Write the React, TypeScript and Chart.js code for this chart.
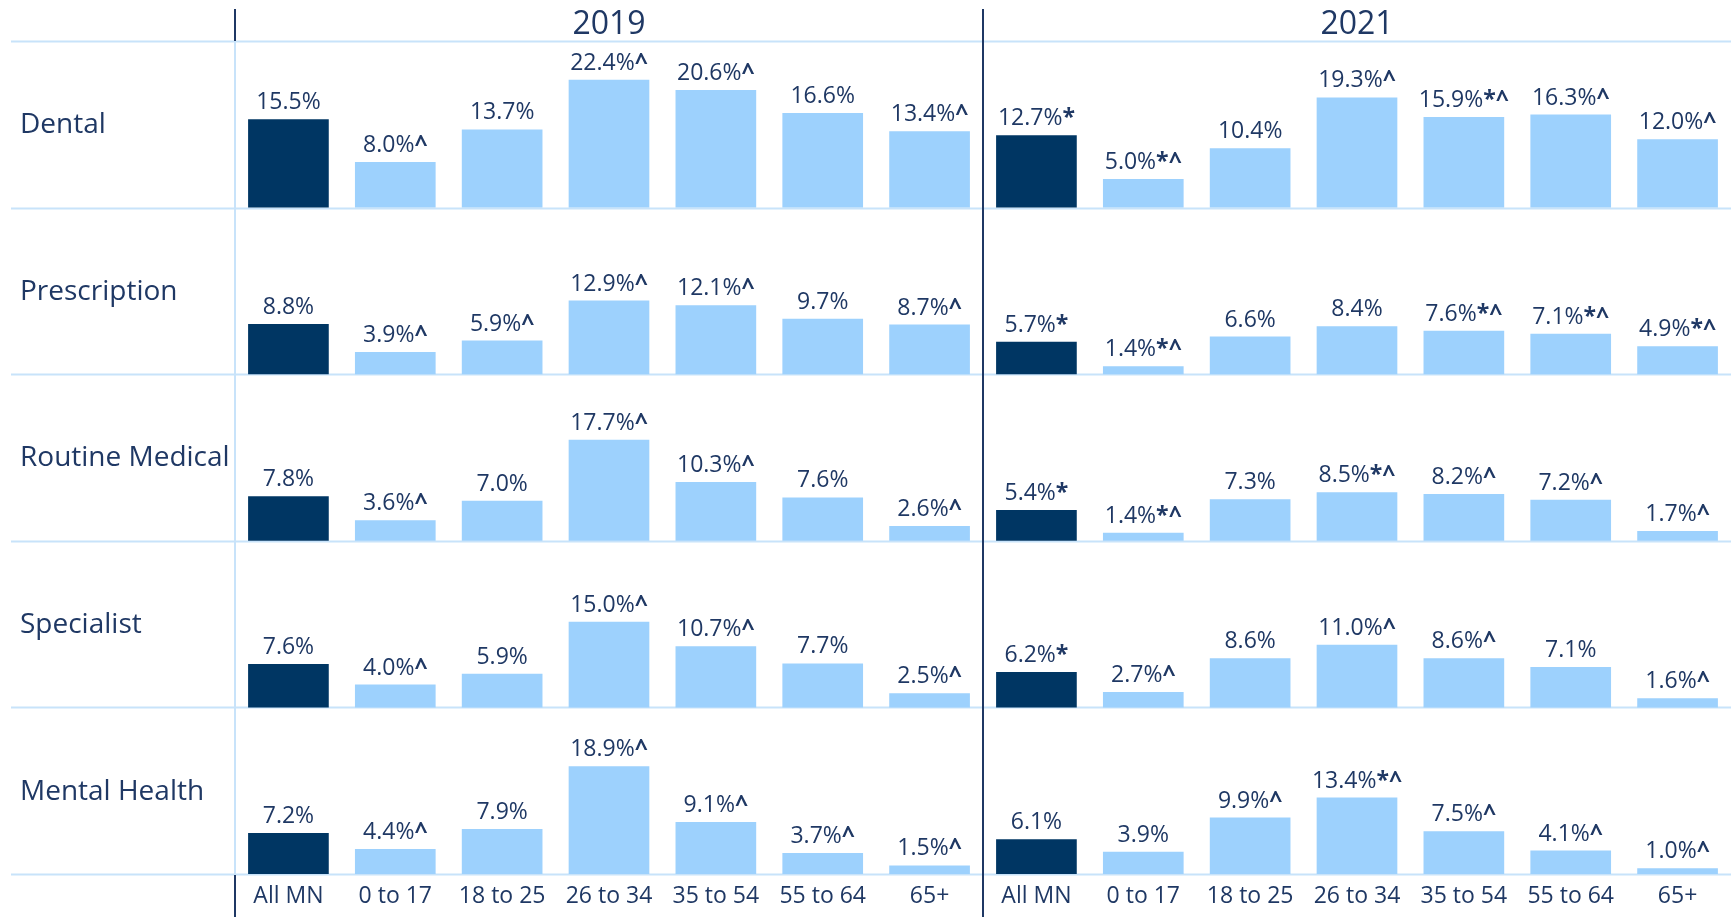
import React, { useEffect, useRef } from "react";
import { Chart, registerables } from "chart.js";

Chart.register(...registerables);

const years = ["2019", "2021"];
const ageGroups = ["All MN", "0 to 17", "18 to 25", "26 to 34", "35 to 54", "55 to 64", "65+"];
const categories = [...ageGroups, ...ageGroups];
const rowLabels = ["Dental", "Prescription", "Routine Medical", "Specialist", "Mental Health"];

// values: 7 for 2019 followed by 7 for 2021
const dental = [15.5, 8.0, 13.7, 22.4, 20.6, 16.6, 13.4, 12.7, 5.0, 10.4, 19.3, 15.9, 16.3, 12.0];
const prescription = [8.8, 3.9, 5.9, 12.9, 12.1, 9.7, 8.7, 5.7, 1.4, 6.6, 8.4, 7.6, 7.1, 4.9];
const routineMedical = [7.8, 3.6, 7.0, 17.7, 10.3, 7.6, 2.6, 5.4, 1.4, 7.3, 8.5, 8.2, 7.2, 1.7];
const specialist = [7.6, 4.0, 5.9, 15.0, 10.7, 7.7, 2.5, 6.2, 2.7, 8.6, 11.0, 8.6, 7.1, 1.6];
const mentalHealth = [7.2, 4.4, 7.9, 18.9, 9.1, 3.7, 1.5, 6.1, 3.9, 9.9, 13.4, 7.5, 4.1, 1.0];

const dentalMarks = ["", "^", "", "^", "^", "", "^", "*", "*^", "", "^", "*^", "^", "^"];
const prescriptionMarks = ["", "^", "^", "^", "^", "", "^", "*", "*^", "", "", "*^", "*^", "*^"];
const routineMedicalMarks = ["", "^", "", "^", "^", "", "^", "*", "*^", "", "*^", "^", "^", "^"];
const specialistMarks = ["", "^", "", "^", "^", "", "^", "*", "^", "", "^", "^", "", "^"];
const mentalHealthMarks = ["", "^", "", "^", "^", "^", "^", "", "", "^", "*^", "^", "^", "^"];

const rowValues = [dental, prescription, routineMedical, specialist, mentalHealth];
const rowMarks = [dentalMarks, prescriptionMarks, routineMedicalMarks, specialistMarks, mentalHealthMarks];

const ROW_SPAN = 29.2;
const DARK = "#003663";
const LIGHT = "#9DD1FD";
const TEXT = "#1F3864";
const GRID_LIGHT = "#C8E3FA";
const GRID_DARK = "#1F3864";
const FONT = "'Open Sans', 'Noto Sans', sans-serif";

const decorPlugin = {
  id: "decor",
  beforeDatasetsDraw(chart: any) {
    const ctx = chart.ctx;
    const y = chart.scales.y;
    const area = chart.chartArea;
    const W = chart.width;
    const H = chart.height;
    ctx.save();
    ctx.strokeStyle = GRID_LIGHT;
    ctx.lineWidth = 2;
    for (let k = 0; k <= rowLabels.length; k++) {
      const py = Math.round(y.getPixelForValue(k * ROW_SPAN)) + 0.5;
      ctx.beginPath();
      ctx.moveTo(11, py);
      ctx.lineTo(W, py);
      ctx.stroke();
    }
    ctx.beginPath();
    ctx.moveTo(area.left, area.top);
    ctx.lineTo(area.left, area.bottom);
    ctx.stroke();
    ctx.strokeStyle = GRID_DARK;
    ctx.lineWidth = 2;
    ctx.beginPath();
    ctx.moveTo(area.left, 9);
    ctx.lineTo(area.left, area.top);
    ctx.moveTo(area.left, area.bottom + 1);
    ctx.lineTo(area.left, H);
    const mid = (area.left + area.right) / 2;
    ctx.moveTo(mid, 9);
    ctx.lineTo(mid, H);
    ctx.stroke();
    ctx.restore();
  },
  afterDraw(chart: any) {
    const ctx = chart.ctx;
    const y = chart.scales.y;
    const area = chart.chartArea;
    ctx.save();
    ctx.fillStyle = TEXT;
    ctx.font = `32px ${FONT}`;
    ctx.textAlign = "center";
    ctx.textBaseline = "middle";
    const mid = (area.left + area.right) / 2;
    ctx.fillText(years[0], (area.left + mid) / 2, 25);
    ctx.fillText(years[1], (mid + area.right) / 2, 25);
    ctx.font = `28px ${FONT}`;
    ctx.textAlign = "left";
    rowLabels.forEach((lab, r) => {
      const base = (rowLabels.length - 1 - r) * ROW_SPAN;
      const cy = (y.getPixelForValue(base) + y.getPixelForValue(base + ROW_SPAN)) / 2;
      ctx.fillText(lab, 20, cy + 1);
    });
    ctx.textBaseline = "alphabetic";
    chart.data.datasets.forEach((ds: any, r: number) => {
      const meta = chart.getDatasetMeta(r);
      const vals = rowValues[r];
      const marks = rowMarks[r];
      meta.data.forEach((bar: any, i: number) => {
        const main = vals[i].toFixed(1) + "%";
        const suf = marks[i];
        ctx.font = `23px ${FONT}`;
        const w1 = ctx.measureText(main).width;
        ctx.font = `bold 23px ${FONT}`;
        const w2 = suf ? ctx.measureText(suf).width : 0;
        const sx = bar.x - (w1 + w2) / 2;
        const ty = bar.y - 10;
        ctx.textAlign = "left";
        ctx.font = `23px ${FONT}`;
        ctx.fillText(main, sx, ty);
        if (suf) {
          ctx.font = `bold 23px ${FONT}`;
          ctx.fillText(suf, sx + w1, ty);
        }
      });
    });
    ctx.restore();
  },
};

export default function App() {
  const ref = useRef<HTMLCanvasElement | null>(null);
  useEffect(() => {
    document.body.style.margin = "0";
    document.body.style.overflow = "hidden";
    const canvas = ref.current!;
    const nRows = rowLabels.length;
    const datasets = rowValues.map((vals, r) => {
      const base = (nRows - 1 - r) * ROW_SPAN;
      return {
        label: rowLabels[r],
        data: vals.map((v) => [base, base + v]),
        backgroundColor: vals.map((_, i) => (i % 7 === 0 ? DARK : LIGHT)),
        borderWidth: 0,
        grouped: false,
        barPercentage: 0.755,
        categoryPercentage: 1,
      };
    });
    const chart = new Chart(canvas, {
      type: "bar",
      data: { labels: categories, datasets },
      options: {
        responsive: false,
        animation: false,
        devicePixelRatio: 1,
        layout: { padding: { top: 41, left: 235, right: 0, bottom: 0 } },
        plugins: { legend: { display: false }, tooltip: { enabled: false }, title: { display: false } },
        scales: {
          x: {
            type: "category",
            offset: true,
            grid: { display: false, drawTicks: false },
            border: { display: false },
            ticks: {
              autoSkip: false,
              maxRotation: 0,
              minRotation: 0,
              padding: 9,
              color: TEXT,
              font: { family: FONT, size: 23 },
            },
            afterFit: (scale: any) => {
              scale.height = 43;
            },
          },
          y: {
            display: false,
            min: 0,
            max: nRows * ROW_SPAN,
          },
        },
      },
      plugins: [decorPlugin],
    } as any);
    return () => chart.destroy();
  }, []);
  return (
    <div style={{ position: "absolute", left: 0, top: 0, width: 1731, height: 917, background: "#fff" }}>
      <canvas ref={ref} width={1731} height={917} style={{ width: 1731, height: 917, display: "block" }} />
    </div>
  );
}
